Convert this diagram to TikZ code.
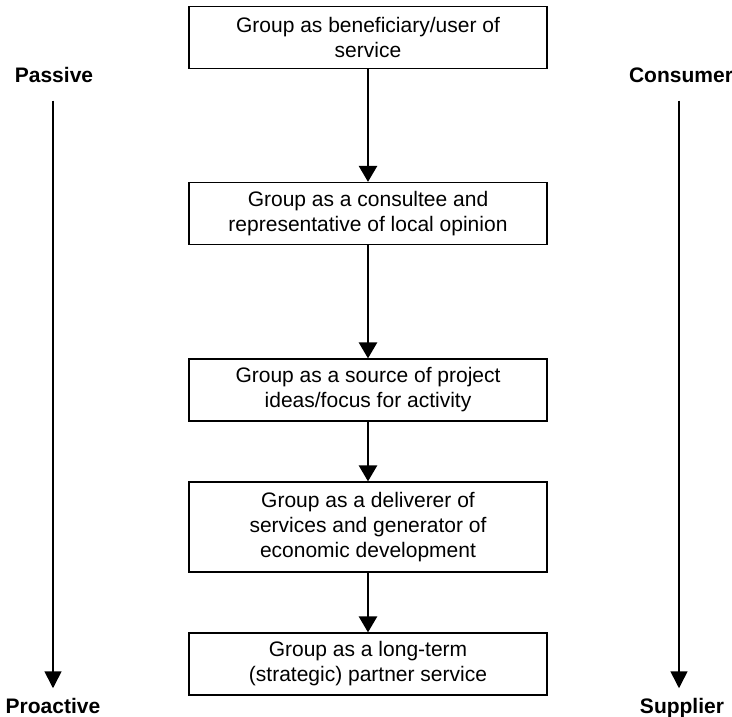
\documentclass[tikz,border=0pt]{standalone}
\usepackage{fontspec}
\setmainfont{Liberation Sans}
\usepackage{tikz}
\usetikzlibrary{arrows.meta}

\tikzset{
    rolebox/.style={draw, line width=1.2pt, minimum width=358pt, minimum height=62pt,
        align=center, inner sep=2pt, font=\fontsize{21}{25}\selectfont},
    sidelabel/.style={anchor=base, font=\bfseries\fontsize{21}{25}\selectfont},
    flow/.style={line width=2.6pt, -{Triangle[width=18pt,length=16pt]}},
    sidearrow/.style={line width=1.6pt, -{Triangle[width=17pt,length=17pt]}}
}

\begin{document}
\begin{tikzpicture}[x=1pt,y=-1pt]
    \useasboundingbox (0,0) rectangle (732,717);

    % Draw role boxes
    \node[rolebox] (user) at (368,37.5) {Group as beneficiary/user of\\service};
    \node[rolebox] (consultee) at (368,213.5) {Group as a consultee and\\representative of local opinion};
    \node[rolebox] (source) at (368,390) {Group as a source of project\\ideas/focus for activity};
    \node[rolebox, minimum height=90pt] (deliverer) at (368,527) {Group as a deliverer of\\services and generator of\\economic development};
    \node[rolebox] (partner) at (368,664) {Group as a long-term\\(strategic) partner service};

    % Draw arrows between boxes
    \draw[flow] (user) -- (consultee);
    \draw[flow] (consultee) -- (source);
    \draw[flow] (source) -- (deliverer);
    \draw[flow] (deliverer) -- (partner);

    % Draw side scales
    \node[sidelabel] (passive) at (54,83) {Passive};
    \node[sidelabel] (proactive) at (53,713) {Proactive};
    \node[sidelabel] (consumer) at (681,83) {Consumer};
    \node[sidelabel] (supplier) at (682,713) {Supplier};

    \draw[sidearrow, shorten <=14pt, shorten >=6pt] (passive.south -| 53,0) -- (proactive.north -| 53,0);
    \draw[sidearrow, shorten <=14pt, shorten >=6pt] (consumer.south -| 679,0) -- (supplier.north -| 679,0);
\end{tikzpicture}
\end{document}
